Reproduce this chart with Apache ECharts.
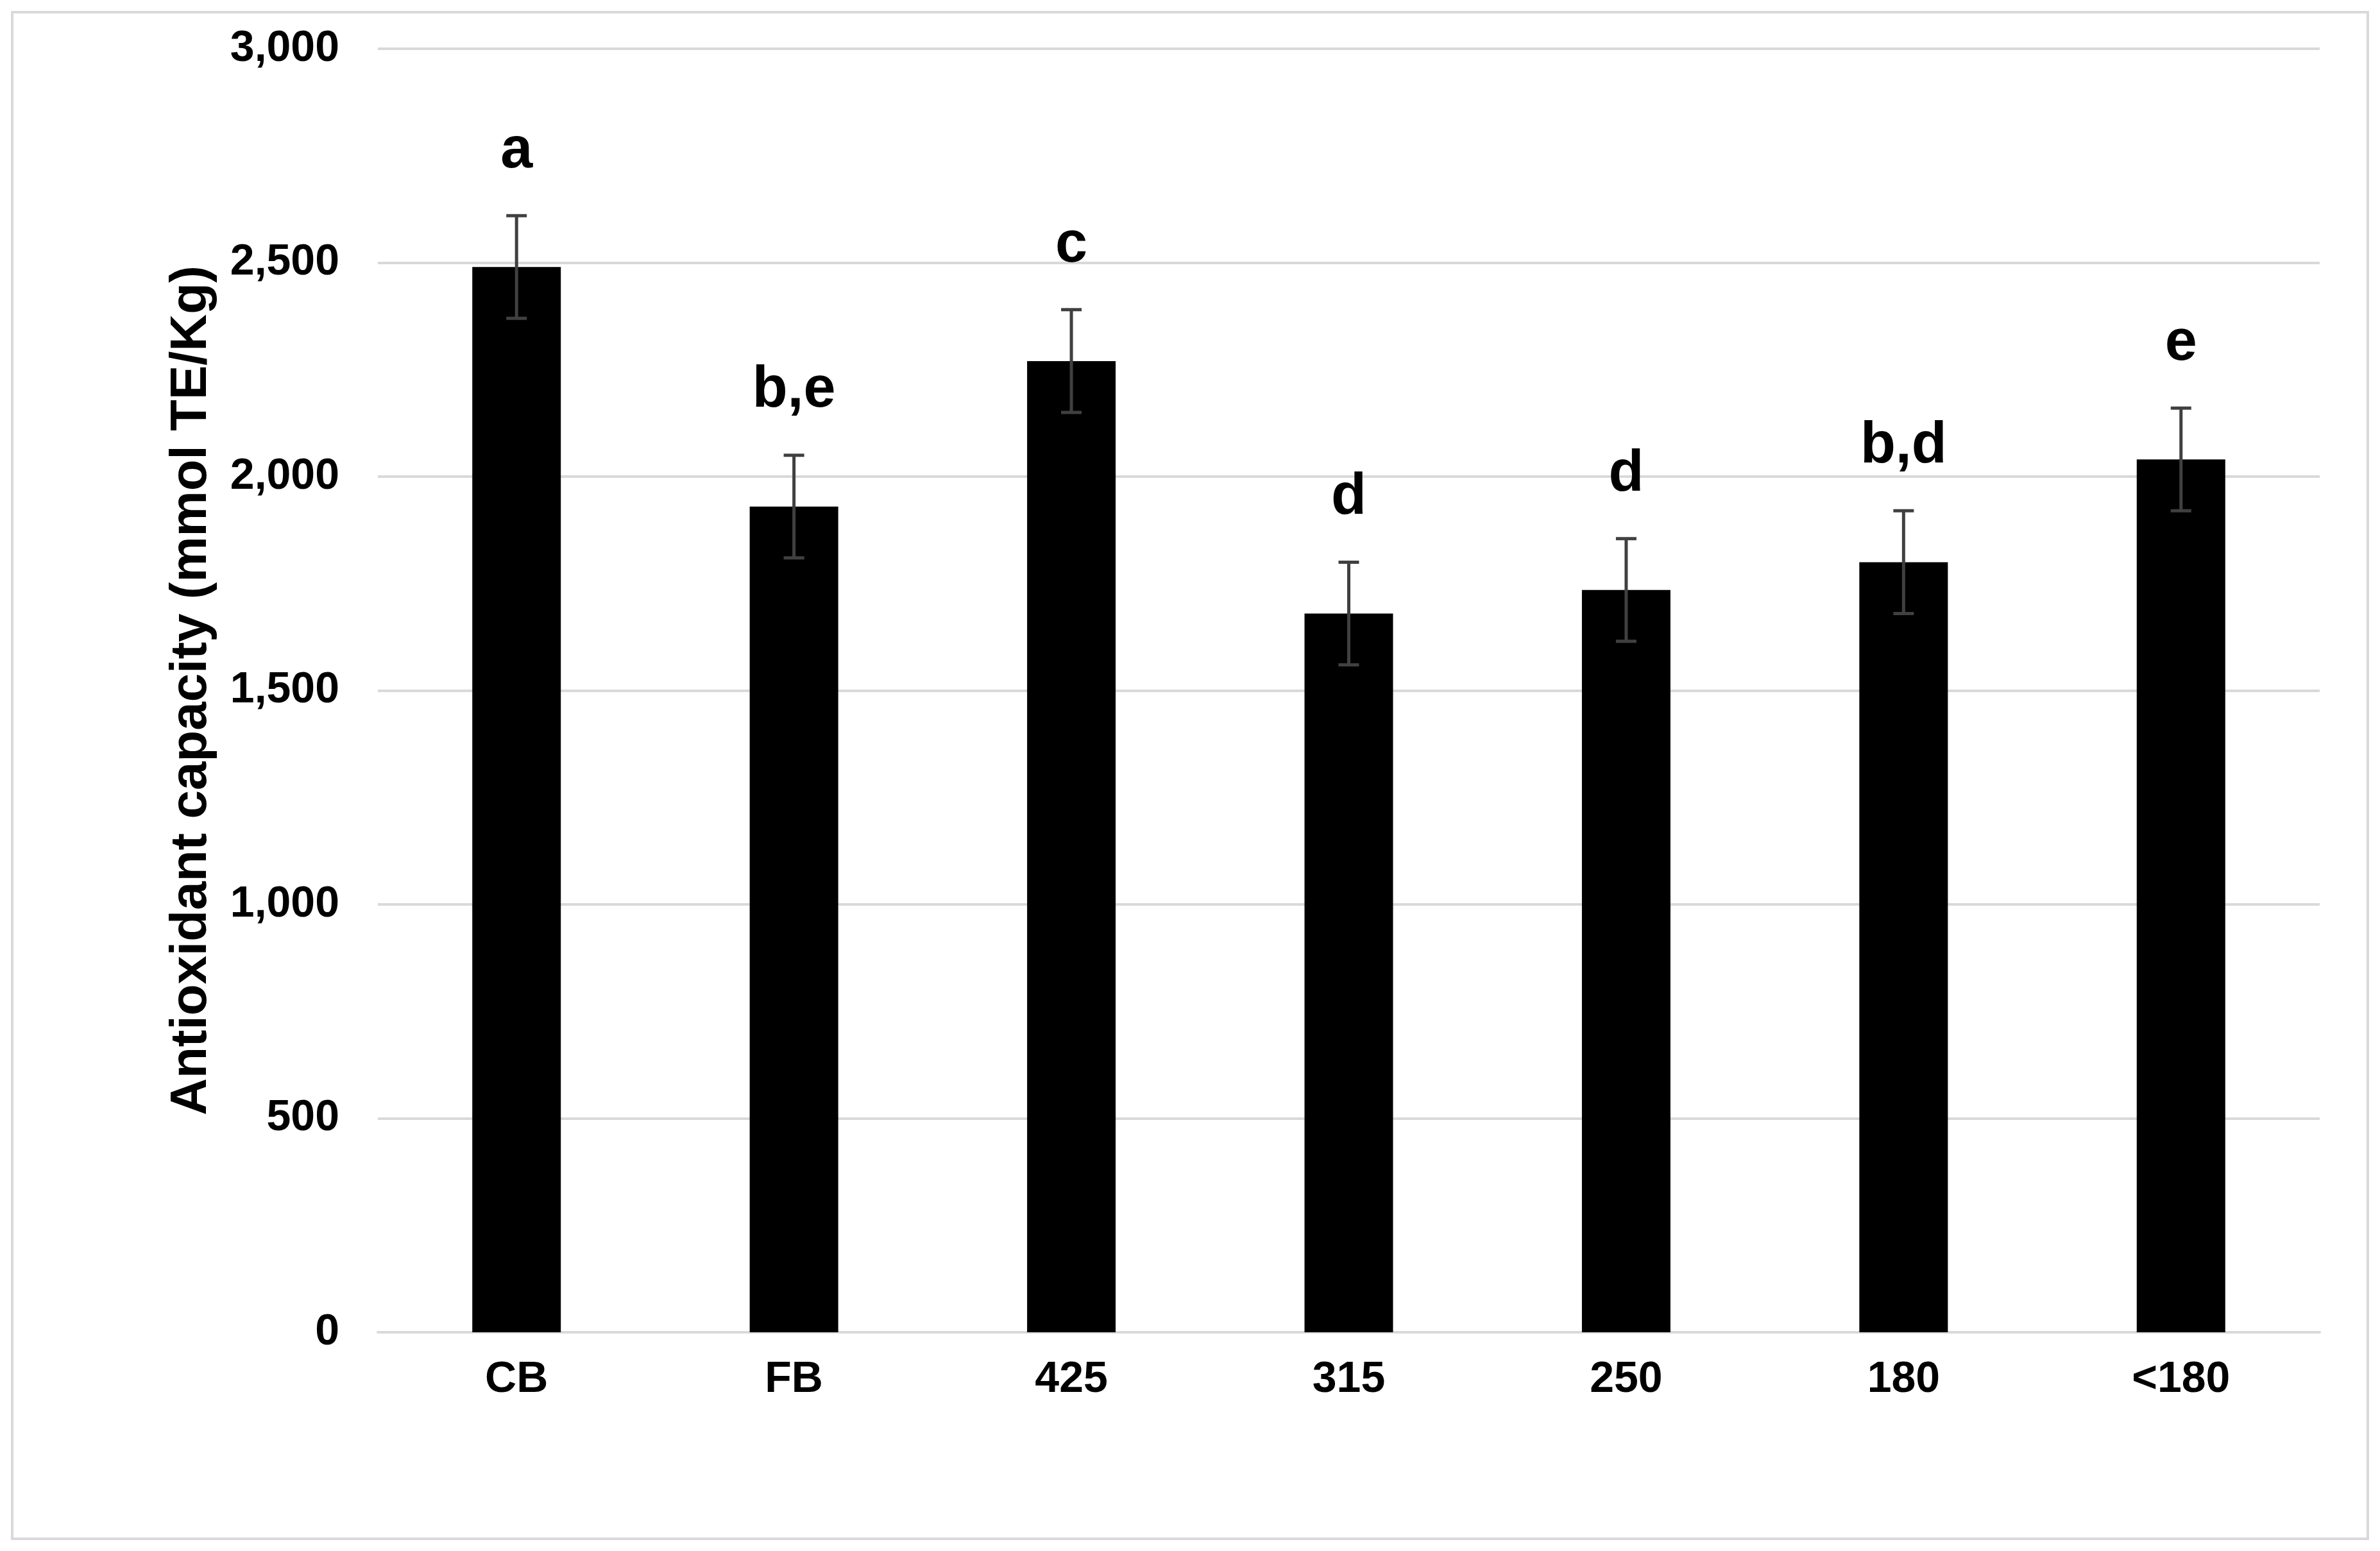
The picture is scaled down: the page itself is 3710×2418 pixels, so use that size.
<!DOCTYPE html>
<html><head><meta charset="utf-8">
<script src="https://cdn.jsdelivr.net/npm/echarts@6/dist/echarts.min.js"></script>
<style>html,body{margin:0;background:#fff}#c{width:3710px;height:2418px}</style>
</head><body><div id="c"></div>
<script>
const categories = ['CB', 'FB', '425', '315', '250', '180', '<180']
const values = [2490, 1930, 2270, 1680, 1735, 1800, 2040]
const errors = [120, 120, 120, 120, 120, 120, 120]
const letters = ['a', 'b,e', 'c', 'd', 'd', 'b,d', 'e']

const font = 'Arial, "Liberation Sans", sans-serif'
const chart = echarts.init(document.getElementById('c'))
chart.setOption({
  animation: false,
  graphic: [{ type: 'rect', shape: { x: 19, y: 19, width: 3672, height: 2380 },
    style: { fill: 'none', stroke: '#d9d9d9', lineWidth: 4 } }],
  grid: { left: 589, right: 94, top: 76, bottom: 341 },
  xAxis: {
    type: 'category', data: categories,
    axisLine: { lineStyle: { color: '#d9d9d9', width: 4 } },
    axisTick: { show: false },
    axisLabel: { color: '#000', fontFamily: font, fontWeight: 'bold', fontSize: 68, margin: 40 }
  },
  yAxis: {
    type: 'value', min: 0, max: 3000, interval: 500,
    name: 'Antioxidant capacity (mmol TE/Kg)', nameLocation: 'middle', nameGap: 250,
    nameTextStyle: { color: '#000', fontFamily: font, fontWeight: 'bold', fontSize: 80 },
    axisLine: { show: false }, axisTick: { show: false },
    axisLabel: { color: '#000', fontFamily: font, fontWeight: 'bold', fontSize: 68, margin: 60 },
    splitLine: { lineStyle: { color: '#d9d9d9', width: 4 } }
  },
  series: [
    { type: 'bar', data: values, barWidth: 138, itemStyle: { color: '#000' } },
    {
      type: 'custom', z: 10,
      data: values.map((v, i) => [i, v, errors[i], letters[i]]),
      renderItem: (params, api) => {
        const i = api.value(0), v = api.value(1), e = api.value(2)
        const top = api.coord([i, v + e]), bot = api.coord([i, v - e])
        const x = top[0], cap = 16
        const st = { stroke: '#404040', lineWidth: 5 }
        return { type: 'group', children: [
          { type: 'line', shape: { x1: x, y1: top[1], x2: x, y2: bot[1] }, style: st },
          { type: 'line', shape: { x1: x - cap, y1: top[1], x2: x + cap, y2: top[1] }, style: st },
          { type: 'line', shape: { x1: x - cap, y1: bot[1], x2: x + cap, y2: bot[1] }, style: st },
          { type: 'text', x: x, y: top[1] - 55, style: { text: letters[i], fill: '#000',
            font: 'bold 90px ' + font, align: 'center', verticalAlign: 'bottom' } }
        ] }
      }
    }
  ]
})
</script></body></html>
